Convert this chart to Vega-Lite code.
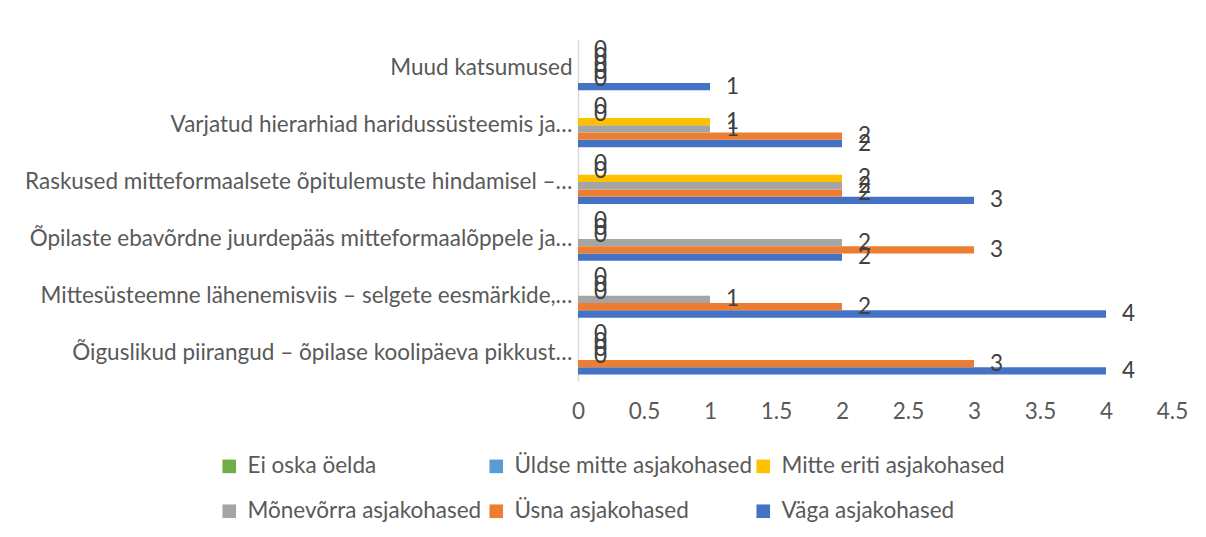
{
  "$schema": "https://vega.github.io/schema/vega-lite/v6.json",
  "width": 594,
  "height": 341,
  "autosize": {"type": "none"},
  "padding": {"left": 578, "top": 40, "right": 34, "bottom": 156},
  "background": "white",
  "config": {
    "view": {"stroke": null},
    "font": "Lato"
  },
  "data": {
    "values": [
      {"category": "Muud katsumused", "series": "Väga asjakohased", "value": 1},
      {"category": "Muud katsumused", "series": "Üsna asjakohased", "value": 0},
      {"category": "Muud katsumused", "series": "Mõnevõrra asjakohased", "value": 0},
      {"category": "Muud katsumused", "series": "Mitte eriti asjakohased", "value": 0},
      {"category": "Muud katsumused", "series": "Üldse mitte asjakohased", "value": 0},
      {"category": "Muud katsumused", "series": "Ei oska öelda", "value": 0},
      {"category": "Varjatud hierarhiad haridussüsteemis ja…", "series": "Väga asjakohased", "value": 2},
      {"category": "Varjatud hierarhiad haridussüsteemis ja…", "series": "Üsna asjakohased", "value": 2},
      {"category": "Varjatud hierarhiad haridussüsteemis ja…", "series": "Mõnevõrra asjakohased", "value": 1},
      {"category": "Varjatud hierarhiad haridussüsteemis ja…", "series": "Mitte eriti asjakohased", "value": 1},
      {"category": "Varjatud hierarhiad haridussüsteemis ja…", "series": "Üldse mitte asjakohased", "value": 0},
      {"category": "Varjatud hierarhiad haridussüsteemis ja…", "series": "Ei oska öelda", "value": 0},
      {"category": "Raskused mitteformaalsete õpitulemuste hindamisel –…", "series": "Väga asjakohased", "value": 3},
      {"category": "Raskused mitteformaalsete õpitulemuste hindamisel –…", "series": "Üsna asjakohased", "value": 2},
      {"category": "Raskused mitteformaalsete õpitulemuste hindamisel –…", "series": "Mõnevõrra asjakohased", "value": 2},
      {"category": "Raskused mitteformaalsete õpitulemuste hindamisel –…", "series": "Mitte eriti asjakohased", "value": 2},
      {"category": "Raskused mitteformaalsete õpitulemuste hindamisel –…", "series": "Üldse mitte asjakohased", "value": 0},
      {"category": "Raskused mitteformaalsete õpitulemuste hindamisel –…", "series": "Ei oska öelda", "value": 0},
      {"category": "Õpilaste ebavõrdne juurdepääs mitteformaalõppele ja…", "series": "Väga asjakohased", "value": 2},
      {"category": "Õpilaste ebavõrdne juurdepääs mitteformaalõppele ja…", "series": "Üsna asjakohased", "value": 3},
      {"category": "Õpilaste ebavõrdne juurdepääs mitteformaalõppele ja…", "series": "Mõnevõrra asjakohased", "value": 2},
      {"category": "Õpilaste ebavõrdne juurdepääs mitteformaalõppele ja…", "series": "Mitte eriti asjakohased", "value": 0},
      {"category": "Õpilaste ebavõrdne juurdepääs mitteformaalõppele ja…", "series": "Üldse mitte asjakohased", "value": 0},
      {"category": "Õpilaste ebavõrdne juurdepääs mitteformaalõppele ja…", "series": "Ei oska öelda", "value": 0},
      {"category": "Mittesüsteemne lähenemisviis – selgete eesmärkide,…", "series": "Väga asjakohased", "value": 4},
      {"category": "Mittesüsteemne lähenemisviis – selgete eesmärkide,…", "series": "Üsna asjakohased", "value": 2},
      {"category": "Mittesüsteemne lähenemisviis – selgete eesmärkide,…", "series": "Mõnevõrra asjakohased", "value": 1},
      {"category": "Mittesüsteemne lähenemisviis – selgete eesmärkide,…", "series": "Mitte eriti asjakohased", "value": 0},
      {"category": "Mittesüsteemne lähenemisviis – selgete eesmärkide,…", "series": "Üldse mitte asjakohased", "value": 0},
      {"category": "Mittesüsteemne lähenemisviis – selgete eesmärkide,…", "series": "Ei oska öelda", "value": 0},
      {"category": "Õiguslikud piirangud – õpilase koolipäeva pikkust…", "series": "Väga asjakohased", "value": 4},
      {"category": "Õiguslikud piirangud – õpilase koolipäeva pikkust…", "series": "Üsna asjakohased", "value": 3},
      {"category": "Õiguslikud piirangud – õpilase koolipäeva pikkust…", "series": "Mõnevõrra asjakohased", "value": 0},
      {"category": "Õiguslikud piirangud – õpilase koolipäeva pikkust…", "series": "Mitte eriti asjakohased", "value": 0},
      {"category": "Õiguslikud piirangud – õpilase koolipäeva pikkust…", "series": "Üldse mitte asjakohased", "value": 0},
      {"category": "Õiguslikud piirangud – õpilase koolipäeva pikkust…", "series": "Ei oska öelda", "value": 0}
    ]
  },
  "encoding": {
    "y": {
      "field": "category",
      "type": "nominal",
      "sort": null,
      "scale": {"paddingInner": 0, "paddingOuter": 0},
      "axis": {
        "title": null,
        "ticks": false,
        "domainColor": "#d9d9d9",
        "domainWidth": 1.5,
        "labelFontSize": 22.5,
        "labelColor": "#595959",
        "labelPadding": 6,
        "labelLimit": 700,
        "labelFont": "Lato"
      }
    },
    "x": {
      "field": "value",
      "type": "quantitative",
      "scale": {"domain": [0, 4.5], "nice": false},
      "axis": {
        "title": null,
        "values": [0, 0.5, 1, 1.5, 2, 2.5, 3, 3.5, 4, 4.5],
        "format": "~g",
        "grid": false,
        "domain": false,
        "ticks": false,
        "tickSize": 0,
        "labelFontSize": 22.5,
        "labelColor": "#595959",
        "labelPadding": 19,
        "labelFlush": false,
        "labelFont": "Lato"
      }
    },
    "yOffset": {
      "field": "series",
      "type": "nominal",
      "scale": {
        "domain": ["Ei oska öelda", "Üldse mitte asjakohased", "Mitte eriti asjakohased", "Mõnevõrra asjakohased", "Üsna asjakohased", "Väga asjakohased"],
        "paddingInner": 0,
        "paddingOuter": 0.89
      }
    }
  },
  "layer": [
    {
      "mark": {"type": "bar"},
      "encoding": {
        "color": {
          "field": "series",
          "type": "nominal",
          "scale": {
            "domain": ["Ei oska öelda", "Üldse mitte asjakohased", "Mitte eriti asjakohased", "Mõnevõrra asjakohased", "Üsna asjakohased", "Väga asjakohased"],
            "range": ["#70AD47", "#5B9BD5", "#FFC000", "#A5A5A5", "#ED7D31", "#4472C4"]
          },
          "legend": {
            "title": null,
            "orient": "none",
            "legendX": -360,
            "legendY": 415,
            "direction": "horizontal",
            "columns": 3,
            "gridAlign": "all",
            "columnPadding": -10,
            "rowPadding": 22,
            "symbolType": "square",
            "symbolSize": 185,
            "symbolStrokeWidth": 0,
            "labelOffset": 7,
            "labelFontSize": 22.5,
            "labelColor": "#595959",
            "labelFont": "Lato",
            "labelLimit": 400
          }
        }
      }
    },
    {
      "mark": {"type": "text", "align": "left", "baseline": "middle", "dx": 16, "fontSize": 22.5, "color": "#404040", "font": "Lato"},
      "encoding": {
        "text": {"field": "value", "type": "quantitative"}
      }
    }
  ]
}
